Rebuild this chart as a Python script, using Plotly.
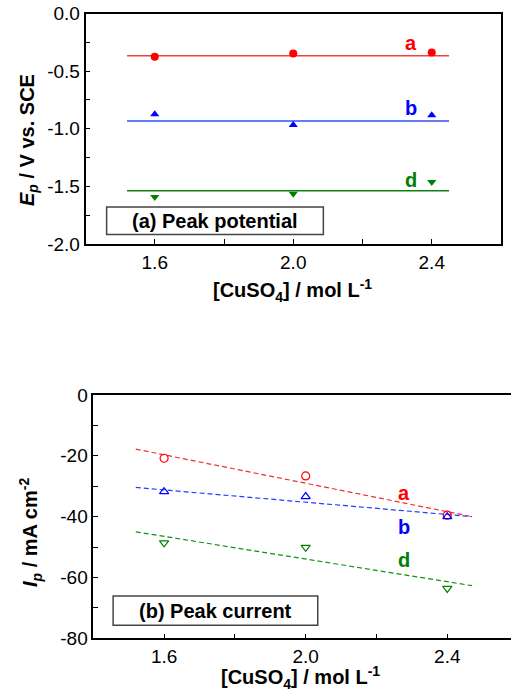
import plotly.graph_objects as go

# [CuSO4] concentrations (mol/L)
conc = [1.6, 2.0, 2.4]

# (a) peak potentials, V vs. SCE
ep_a = [-0.376, -0.346, -0.338]
ep_b = [-0.874, -0.967, -0.883]
ep_d = [-1.593, -1.563, -1.463]
ep_line_x = [1.52, 2.45]
ep_mean_a = [-0.367, -0.367]
ep_mean_b = [-0.932, -0.932]
ep_mean_d = [-1.538, -1.538]

# (b) peak current densities, mA/cm2
ip_a = [-20.8, -26.6, -39.5]
ip_b = [-31.8, -33.4, -40.0]
ip_d = [-48.6, -50.1, -63.6]
ip_fit_x = [1.52, 2.47]
ip_fit_a = [-17.8, -40.0]
ip_fit_b = [-30.4, -40.0]
ip_fit_d = [-45.0, -62.7]

# tick labels (plain hyphen for negatives)
conc_ticks = [1.6, 2.0, 2.4]
conc_tick_labels = ["1.6", "2.0", "2.4"]
ep_ticks = [0.0, -0.5, -1.0, -1.5, -2.0]
ep_tick_labels = ["0.0", "-0.5", "-1.0", "-1.5", "-2.0"]
ip_ticks = [0, -20, -40, -60, -80]
ip_tick_labels = ["0", "-20", "-40", "-60", "-80"]

series_names = ["a", "b", "d"]
RED, BLUE, GREEN = "#ff0000", "#0000ff", "#008000"
FONT = "Liberation Sans, Arial, sans-serif"

W, H = 513, 691


def px_x(p):
    return p / W


def px_y(p):
    return 1 - p / H


fig = go.Figure()

# ---- panel (a) ----
for vals, col in [(ep_mean_a, "#f04040"), (ep_mean_b, "#3050ff"), (ep_mean_d, "#108010")]:
    fig.add_trace(go.Scatter(x=ep_line_x, y=vals, mode="lines",
                             line=dict(color=col, width=1.5),
                             xaxis="x", yaxis="y", showlegend=False))
for vals, col, sym in [(ep_a, RED, "circle"), (ep_b, BLUE, "triangle-up"),
                       (ep_d, GREEN, "triangle-down")]:
    fig.add_trace(go.Scatter(x=conc, y=vals, mode="markers",
                             marker=dict(color=col, symbol=sym, size=8, line=dict(width=0)),
                             xaxis="x", yaxis="y", showlegend=False))

# ---- panel (b) ----
for vals, col in [(ip_fit_a, "#f03030"), (ip_fit_b, "#2040ff"), (ip_fit_d, "#109010")]:
    fig.add_trace(go.Scatter(x=ip_fit_x, y=vals, mode="lines",
                             line=dict(color=col, width=1.2, dash="5px,3px"),
                             xaxis="x2", yaxis="y2", showlegend=False))
for vals, col, sym in [(ip_a, RED, "circle-open"), (ip_b, BLUE, "triangle-up-open"),
                       (ip_d, GREEN, "triangle-down-open")]:
    fig.add_trace(go.Scatter(x=conc, y=vals, mode="markers",
                             marker=dict(color=col, symbol=sym, size=8, line=dict(width=1.2)),
                             xaxis="x2", yaxis="y2", showlegend=False))

axis_common = dict(showline=True, linecolor="black", linewidth=1.5,
                   ticks="inside", ticklen=5, tickcolor="black", tickwidth=1,
                   showgrid=False, zeroline=False, automargin=False,
                   tickmode="array",
                   tickfont=dict(family=FONT, size=19, color="black"))

# tick-only axes for the opposite (top / right) frame edges
tick_only = dict(showline=False, showgrid=False, zeroline=False, showticklabels=False,
                 automargin=False,
                 ticks="inside", ticklen=5, tickcolor="black", tickwidth=1)

dom_x1 = [px_x(85.5), px_x(501)]
dom_y1 = [px_y(244), px_y(13.5)]
dom_x2 = [px_x(93.3), px_x(511)]
dom_y2 = [px_y(638.3), px_y(395)]

fig.update_layout(
    template="none",
    width=W, height=H,
    margin=dict(l=0, r=0, t=0, b=0, autoexpand=False),
    paper_bgcolor="white", plot_bgcolor="white",
    xaxis=dict(axis_common, domain=dom_x1, range=[1.4, 2.6],
               tickvals=conc_ticks, ticktext=conc_tick_labels, mirror=True,
               minor=dict(tickmode="linear", dtick=0.2, tick0=1.6, ticks="inside",
                          ticklen=5, tickcolor="black"),
               anchor="y"),
    yaxis=dict(axis_common, domain=dom_y1, range=[-2.0, 0.0],
               tickvals=ep_ticks, ticktext=ep_tick_labels, mirror=True,
               minor=dict(tickmode="linear", dtick=0.25, tick0=0, ticks="inside",
                          ticklen=5, tickcolor="black"),
               anchor="x"),
    xaxis3=dict(tick_only, domain=dom_x1, range=[1.4, 2.6], tick0=1.6, dtick=0.2,
                overlaying="x", side="top", anchor="y"),
    yaxis3=dict(tick_only, domain=dom_y1, range=[-2.0, 0.0], dtick=0.25,
                overlaying="y", side="right", anchor="x"),
    xaxis2=dict(axis_common, domain=dom_x2, range=[1.4, 2.58],
                tickvals=conc_ticks, ticktext=conc_tick_labels, mirror=True,
                minor=dict(tickmode="linear", dtick=0.2, tick0=1.6, ticks="inside",
                           ticklen=5, tickcolor="black"),
                anchor="y2"),
    yaxis2=dict(axis_common, domain=dom_y2, range=[-80, 0],
                tickvals=ip_ticks, ticktext=ip_tick_labels,
                minor=dict(tickmode="linear", dtick=10, tick0=0, ticks="inside",
                           ticklen=5, tickcolor="black"),
                anchor="x2"),
    xaxis4=dict(tick_only, domain=dom_x2, range=[1.4, 2.58], tick0=1.6, dtick=0.2,
                overlaying="x2", side="top", anchor="y2"),
)

# Caption boxes
fig.add_shape(type="rect", xref="x", yref="y", x0=1.461, x1=2.087, y0=-1.917, y1=-1.68,
              line=dict(color="#444444", width=1.5), fillcolor="white")
fig.add_shape(type="rect", xref="x2", yref="y2", x0=1.456, x1=2.034, y0=-75.7, y1=-66.1,
              line=dict(color="#444444", width=1.5), fillcolor="white")

ann = []
box_font = dict(family=FONT, size=20, color="black")
ann.append(dict(x=1.774, y=-1.80, xref="x", yref="y", text="<b>(a) Peak potential</b>",
                showarrow=False, font=box_font))
ann.append(dict(x=1.745, y=-70.9, xref="x2", yref="y2", text="<b>(b) Peak current</b>",
                showarrow=False, font=box_font))

# Series letters
for name, yv, col in zip(series_names, [-0.257, -0.822, -1.448], [RED, BLUE, GREEN]):
    ann.append(dict(x=2.341, y=yv, xref="x", yref="y", text=f"<b>{name}</b>",
                    showarrow=False, font=dict(family=FONT, size=20, color=col)))
for name, yv, col in zip(series_names, [-32.1, -43.3, -54.3], [RED, BLUE, GREEN]):
    ann.append(dict(x=2.278, y=yv, xref="x2", yref="y2", text=f"<b>{name}</b>",
                    showarrow=False, font=dict(family=FONT, size=20, color=col)))

# Axis titles
title_font = dict(family=FONT, size=20, color="black")
ann.append(dict(x=px_x(292), y=px_y(290), xref="paper", yref="paper",
                text="<b>[CuSO<sub>4</sub>] / mol L<sup>-1</sup></b>",
                showarrow=False, font=title_font))
ann.append(dict(x=px_x(300), y=px_y(677), xref="paper", yref="paper",
                text="<b>[CuSO<sub>4</sub>] / mol L<sup>-1</sup></b>",
                showarrow=False, font=title_font))
ann.append(dict(x=px_x(28), y=px_y(140), xref="paper", yref="paper", textangle=-90,
                text="<b><i>E</i><sub><i>p</i></sub> / V vs. SCE</b>",
                showarrow=False, font=title_font))
ann.append(dict(x=px_x(30), y=px_y(533), xref="paper", yref="paper", textangle=-90,
                text="<b><i>I</i><sub><i>p</i></sub> / mA cm<sup>-2</sup></b>",
                showarrow=False, font=title_font))

for a in ann:
    a.setdefault("xanchor", "center")
    a.setdefault("yanchor", "middle")

fig.update_layout(annotations=ann)

fig.write_html("out.html")
